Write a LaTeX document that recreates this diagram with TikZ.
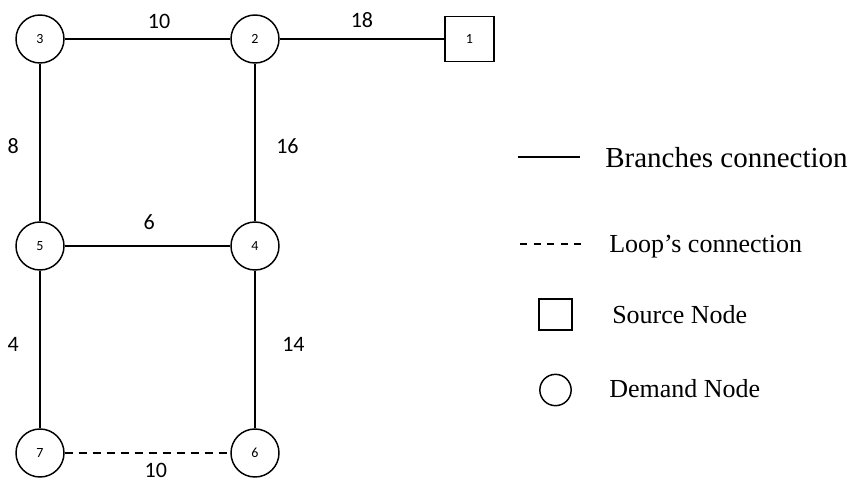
\documentclass[tikz,border=0pt]{standalone}
\usepackage{fontspec}
\setmainfont{Liberation Serif}
\newfontfamily\calibri{Carlito}
\tikzset{demand/.style = {circle, draw, line width=1.1pt, minimum size=36pt, inner sep=0pt, font=\calibri\fontsize{10.5}{12}\selectfont},
         source/.style = {rectangle, draw, line width=1.1pt, minimum width=37pt, minimum height=34pt, inner sep=0pt, font=\calibri\fontsize{10.5}{12}\selectfont},
         pipe/.style = {line width=1pt},
         loop/.style = {line width=1pt, dash pattern=on 6.5pt off 4pt},
         weight/.style = {inner sep=0pt, font=\calibri\fontsize{16.5}{18}\selectfont},
         legtext/.style = {anchor=base west, inner sep=0pt, font=\fontsize{19.5}{22}\selectfont}}

\begin{document}
\begin{tikzpicture}[x=0.75pt, y=-0.75pt]
\useasboundingbox (0,0) rectangle (851,483);
% network
\node [source] (n1) at (469.5,39) {1};
\node [demand] (n2) at (255,39) {2};
\node [demand] (n3) at (40,39) {3};
\node [demand] (n4) at (255,246) {4};
\node [demand] (n5) at (40,246) {5};
\node [demand] (n6) at (255,453) {6};
\node [demand] (n7) at (40,453) {7};
\draw [pipe] (n3) -- node [weight, pos=.57, above=7.5pt] {10} (n2);
\draw [pipe] (n2) -- node [weight, pos=.5, above=8pt] {18} (n1);
\draw [pipe] (n3) -- node [weight, pos=.52, left=15.5pt] {8} (n5);
\draw [pipe] (n2) -- node [weight, pos=.52, right=15.5pt] {16} (n4);
\draw [pipe] (n5) -- node [weight, pos=.51, above=12pt] {6} (n4);
\draw [pipe] (n5) -- node [weight, pos=.47, left=15.5pt] {4} (n7);
\draw [pipe] (n4) -- node [weight, pos=.47, right=20pt] {14} (n6);
\draw [loop] (n7) -- node [weight, pos=.55, below=7pt] {10} (n6);
% legend
\coordinate (b1) at (518,157);
\coordinate (b2) at (580,157);
\draw [pipe] (b1) -- (b2);
\node [legtext, font=\fontsize{21.75}{24}\selectfont] (tb) at (605,167) {Branches connection};
\coordinate (l1) at (520,244);
\coordinate (l2) at (583,244);
\draw [loop, line width=1.3pt, dash pattern=on 5.3pt off 4.9pt] (l1) -- (l2);
\node [legtext] (tl) at (609,252) {Loop’s connection};
\node [source, minimum width=24.5pt, minimum height=23pt] (ks) at (555.5,314.5) {};
\node [legtext] (ts) at (612,323) {Source Node};
\node [demand, minimum size=23.5pt] (kd) at (555.5,390) {};
\node [legtext] (td) at (609,397) {Demand Node};
\end{tikzpicture}
\end{document}
